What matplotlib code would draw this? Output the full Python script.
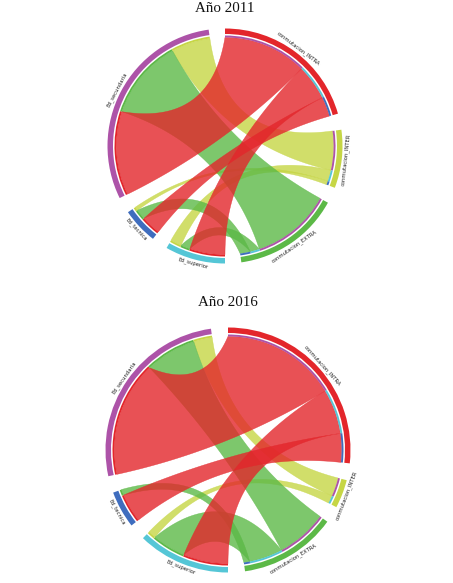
import numpy as np
import matplotlib
matplotlib.use("Agg")
import matplotlib.pyplot as plt
from matplotlib.patches import Wedge, Polygon

# ---------------- data ----------------
sources = ["Ed_secundaria", "Ed_tecnica", "Ed_superior"]
targets = ["conmutacion_INTRA", "conmutacion_INTER", "conmutacion_EXTRA"]

# rows = sources, columns = targets (INTRA, INTER, EXTRA)
flows_2011 = [[45.0, 21.0, 43.0],
              [10.5, 2.0, 5.5],
              [19.0, 6.0, 5.0]]
flows_2016 = [[58.5, 9.5, 26.0],
              [14.6, 0.0, 3.0],
              [22.8, 4.0, 17.0]]
titles = ["Año 2011", "Año 2016"]

source_colors = ["#AD53A8", "#3F6DBE", "#55C6D6"]
target_colors = ["#E3262B", "#C6D645", "#5CB947"]

# ---------------- layout helpers ----------------
W, H = 453, 583
GAP = 8.0
sector_order = [("t", 0), ("t", 1), ("t", 2), ("s", 2), ("s", 1), ("s", 0)]
src_link_order = [0, 2, 1]    # INTRA, EXTRA, INTER (clockwise inside a source)
tgt_link_order = [0, 2, 1]    # secundaria, superior, tecnica (clockwise inside a target)


def pt(r, a):
    a = np.radians(a)
    return np.array([r * np.cos(a), r * np.sin(a)])


def arc(r, a0, a1, n=60):
    aa = np.radians(np.linspace(a0, a1, n))
    return np.column_stack([r * np.cos(aa), r * np.sin(aa)])


def bez(r, a0, a1, n=80):
    p0, p2 = pt(r, a0), pt(r, a1)
    d = abs(a1 - a0) % 360
    if d > 180:
        d = 360 - d
    s = p0 + p2
    nrm = np.hypot(*s)
    if nrm < 1e-9:
        u = np.zeros(2)
    else:
        u = s / nrm
    half = np.radians(d / 2)
    c = u * r * max(np.cos(half) - np.sin(half), 0.0)
    t = np.linspace(0, 1, n)[:, None]
    return (1 - t) ** 2 * p0 + 2 * (1 - t) * t * c + t ** 2 * p2


def draw_chord(ax, flows, R_o):
    flows = np.array(flows, dtype=float)
    total = flows.sum() * 2
    k = (360 - GAP * len(sector_order)) / total
    grid_w = 5.5
    r_grid_in = R_o - grid_w
    r_link = r_grid_in - 3.4
    r_prop = r_link + 1.9

    spans = {}
    cur = 90.0
    for kind, i in sector_order:
        size = flows[i].sum() if kind == "s" else flows[:, i].sum()
        w = size * k
        spans[(kind, i)] = (cur - w, cur)
        cur = cur - w - GAP

    # link end positions
    s_end = {}
    for i in range(3):
        lo, hi = spans[("s", i)]
        pos = hi
        for j in src_link_order:
            w = flows[i, j] * k
            s_end[(i, j)] = (pos - w, pos)
            pos -= w
    t_end = {}
    for j in range(3):
        lo, hi = spans[("t", j)]
        pos = hi
        for i in tgt_link_order:
            w = flows[i, j] * k
            t_end[(i, j)] = (pos - w, pos)
            pos -= w

    # links
    for j in [1, 2, 0]:
        for i in range(3):
            if flows[i, j] <= 0:
                continue
            s1, s2 = s_end[(i, j)]
            t1, t2 = t_end[(i, j)]
            poly = np.vstack([arc(r_link, s1, s2), bez(r_link, s2, t1),
                              arc(r_link, t1, t2), bez(r_link, t2, s1)])
            ax.add_patch(Polygon(poly, closed=True, facecolor=target_colors[j],
                                 alpha=0.8, edgecolor=target_colors[j],
                                 linewidth=0.3, zorder=2))

    # proportion bars
    for (i, j), (a0, a1) in s_end.items():
        if flows[i, j] > 0:
            ax.add_patch(Wedge((0, 0), r_prop, a0, a1, width=r_prop - r_link,
                               facecolor=target_colors[j], edgecolor="none", zorder=3))
    for (i, j), (a0, a1) in t_end.items():
        if flows[i, j] > 0:
            ax.add_patch(Wedge((0, 0), r_prop, a0, a1, width=r_prop - r_link,
                               facecolor=source_colors[i], edgecolor="none", zorder=3))

    # grid track + labels
    for (kind, i), (a0, a1) in spans.items():
        col = source_colors[i] if kind == "s" else target_colors[i]
        name = sources[i] if kind == "s" else targets[i]
        ax.add_patch(Wedge((0, 0), R_o, a0, a1, width=grid_w,
                           facecolor=col, edgecolor="none", zorder=3))
        m = ((a0 + a1) / 2) % 360
        rot = m - 90 if 0 < m < 180 else m + 90
        x, y = pt(R_o + 4.2, m)
        ax.text(x, y, name, rotation=rot, rotation_mode="anchor",
                ha="center", va="center", fontsize=3.8, color="#222222",
                family="DejaVu Sans", zorder=4)


fig = plt.figure(figsize=(W / 100, H / 100), dpi=100)
charts = [(flows_2011, (225, 146), 117.5, 8.5),
          (flows_2016, (228, 450), 122.5, 302.5)]
half = 150
for (flows, (cx, cy), R_o, ty), title in zip(charts, titles):
    ax = fig.add_axes([(cx - half) / W, (H - cy - half) / H, 2 * half / W, 2 * half / H])
    ax.set_xlim(-half, half)
    ax.set_ylim(-half, half)
    ax.axis("off")
    draw_chord(ax, flows, R_o)
    fig.text(cx / W, 1 - ty / H, title, ha="center", va="center",
             fontsize=10.8, family="Liberation Serif", color="#111111")

fig.savefig("out.png", dpi=100)
